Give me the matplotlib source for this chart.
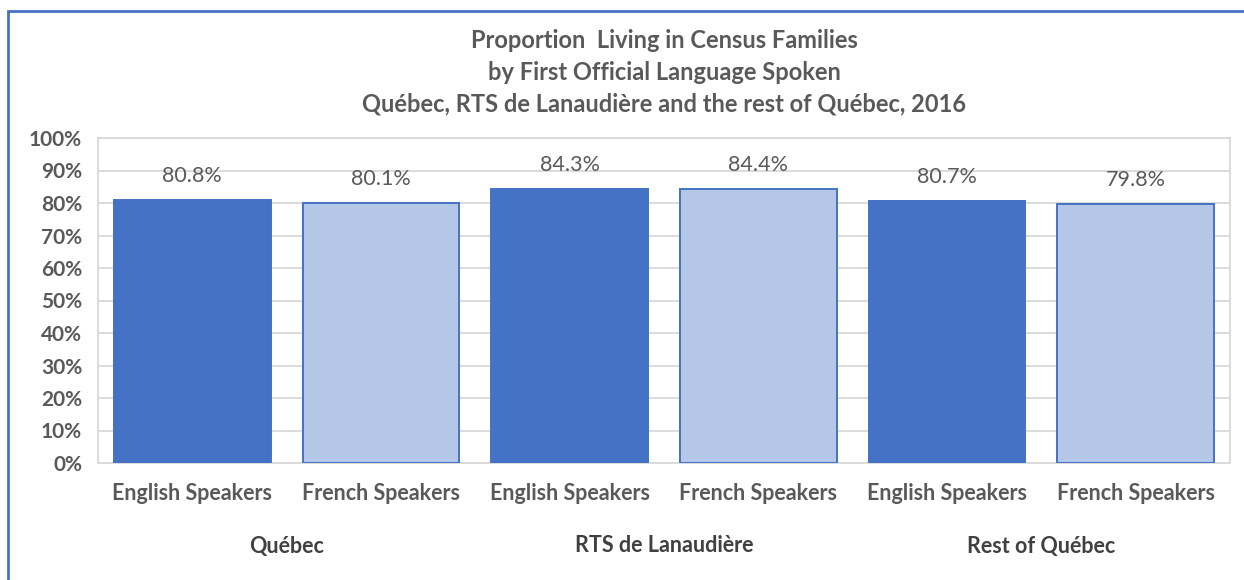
import matplotlib
matplotlib.use("Agg")
import matplotlib.pyplot as plt
from matplotlib.patches import Rectangle
from matplotlib.ticker import PercentFormatter

# Data
groups = ["Québec", "RTS de Lanaudière", "Rest of Québec"]
speakers = ["English Speakers", "French Speakers"]
values = [80.8, 80.1, 84.3, 84.4, 80.7, 79.8]
bar_labels = ["80.8%", "80.1%", "84.3%", "84.4%", "80.7%", "79.8%"]

title_lines = [
    "Proportion  Living in Census Families",
    "by First Official Language Spoken",
    "Québec, RTS de Lanaudière and the rest of Québec, 2016",
]

DARK = "#4472C4"
LIGHT = "#B4C7E7"
TXT = "#595959"
GRID = "#D9D9D9"

plt.rcParams['font.family'] = ['Lato', 'DejaVu Sans']

W, H = 1244, 580
fig = plt.figure(figsize=(W / 100, H / 100), dpi=100)
PX = 72 / 100  # points per pixel

# plot area in pixel terms
left, top, right, bottom = 98, 138, 1230, 463
ax = fig.add_axes([left / W, 1 - bottom / H, (right - left) / W, (bottom - top) / H])

x = list(range(len(values)))
colors = [DARK if i % 2 == 0 else LIGHT for i in x]
ax.bar(x, values, width=0.83, color=colors, edgecolor=DARK,
       linewidth=1.4, zorder=3)

ax.set_xlim(-0.5, len(values) - 0.5)
ax.set_ylim(0, 100)
ax.set_yticks(range(0, 101, 10))
ax.yaxis.set_major_formatter(PercentFormatter(decimals=0))
ax.grid(axis='y', color=GRID, linewidth=1.3, zorder=0)
for s in ax.spines.values():
    s.set_color(GRID)
    s.set_linewidth(1.3)
ax.tick_params(axis='both', length=0)
ax.tick_params(axis='y', labelsize=15, labelcolor=TXT, pad=16 * PX)
for t in ax.get_yticklabels():
    t.set_fontweight('bold')

ax.set_xticks(x)
ax.set_xticklabels([speakers[i % 2] for i in x], fontsize=15.5,
                   fontweight='bold', color=TXT)
ax.tick_params(axis='x', pad=20 * PX)

for xi, v, lab in zip(x, values, bar_labels):
    ax.annotate(lab, (xi, v), xytext=(0, 24 * PX), textcoords='offset points',
                ha='center', va='center', fontsize=15.5, color=TXT)

# group labels under pairs of bars
for gi, g in enumerate(groups):
    xc = gi * 2 + 0.5
    ax.annotate(g, (xc, 0), xytext=(0, -83 * PX), textcoords='offset points',
                ha='center', va='center', fontsize=15.5, fontweight='bold',
                color='#404040', annotation_clip=False)

# title
for i, line in enumerate(title_lines):
    fig.text((left + right) / 2 / W, 1 - (41 + 31.5 * i) / H, line,
             ha='center', va='center', fontsize=17, fontweight='bold',
             color=TXT)

# outer blue frame
fig.patches.append(Rectangle((8 / W, -0.05), 1.2, 1 - 11 / H + 0.05,
                             transform=fig.transFigure, fill=False,
                             edgecolor=DARK, linewidth=2))

fig.savefig("out.png", dpi=100)
